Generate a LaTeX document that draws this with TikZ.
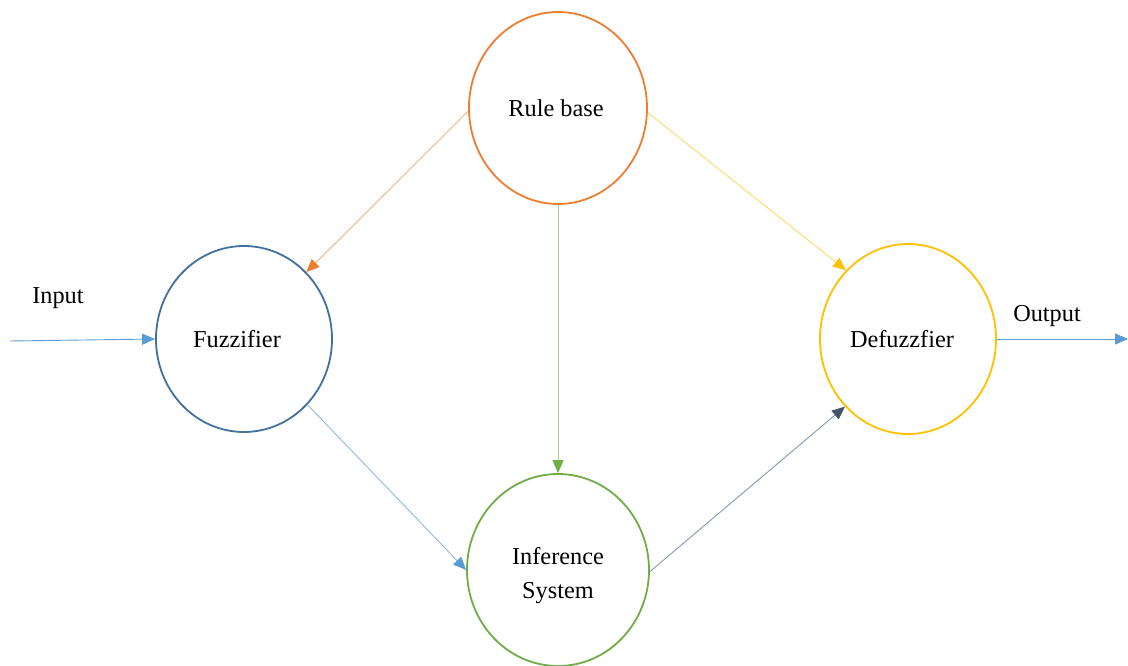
\documentclass[tikz,border=0pt]{standalone}
\usepackage{fontspec}
\setmainfont{Liberation Serif}
\usetikzlibrary{shapes.geometric,arrows.meta}
\definecolor{cOrange}{HTML}{ED7D31}
\definecolor{cOrangeL}{HTML}{F4B183}
\definecolor{cBlueD}{HTML}{41719C}
\definecolor{cBlue}{HTML}{5B9BD5}
\definecolor{cBlueL}{HTML}{8FB9E3}
\definecolor{cGreen}{HTML}{70AD47}
\definecolor{cGreenL}{HTML}{A9D18E}
\definecolor{cGold}{HTML}{FFC000}
\definecolor{cGoldL}{HTML}{FFD966}
\definecolor{cSlate}{HTML}{44546A}
\definecolor{cSlateL}{HTML}{8497B0}
\begin{document}
\begin{tikzpicture}[x=1pt,y=-1pt,
  stage/.style={ellipse,draw,line width=1.8pt,inner sep=0pt,
    minimum width=178pt,minimum height=190pt,
    font=\fontsize{24.3}{34}\selectfont,align=center},
  link/.style 2 args={line width=0.9pt,draw=#1,
    -{Triangle[length=13pt,width=11pt,color=#2]}},
  lbl/.style={font=\fontsize{24.3}{28}\selectfont,inner sep=0pt}]
\useasboundingbox (0,0) rectangle (1128,666);

% processing stages
\node[stage,draw=cOrange,minimum height=192pt] (rb) at (558,108) {\hspace*{-4pt}Rule base};
\node[stage,draw=cBlueD,minimum width=176pt,minimum height=186pt] (fz) at (244,339) {\hspace*{-14pt}Fuzzifier};
\node[stage,draw=cGold,minimum width=176pt] (df) at (908,339) {\hspace*{-12pt}Defuzzfier};
\node[stage,draw=cGreen,minimum width=182pt,minimum height=192pt] (inf) at (558,570) {\rule{0pt}{28pt}Inference\\System};

% external signals
\coordinate (in) at (10,341);
\coordinate (out) at (1128,339);
\node[lbl] (inlbl) at (58,298) {Input};
\node[lbl] (outlbl) at (1047,316) {Output};

% connections
\draw[link={cBlue}{cBlue}] (in) -- (fz.west);
\draw[link={cBlue}{cBlue}] (df.east) -- (out);
\draw[link={cOrangeL}{cOrange}] (rb.182) -- (fz.47);
\draw[link={cGreenL}{cGreen}] (rb.south) -- (inf.north);
\draw[link={cGoldL}{cGold}] (rb.357) -- (df.132);
\draw[link={cBlueL}{cBlue}] (fz.314) -- (inf.west);
\draw[link={cSlateL}{cSlate}] (inf.359) -- (df.227);
\end{tikzpicture}
\end{document}
